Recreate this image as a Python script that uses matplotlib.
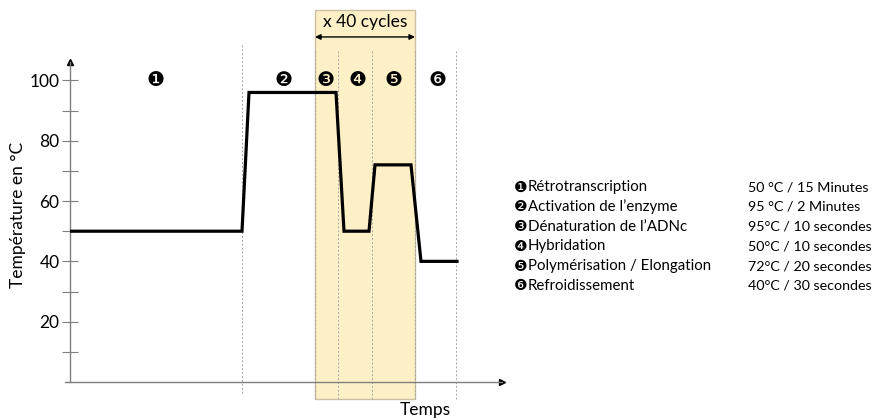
import matplotlib.pyplot as plt
from matplotlib.patches import Rectangle

plt.rcParams['font.family'] = ['Lato', 'DejaVu Sans']

# Temperature profile (time in arbitrary units)
time = [0, 172, 179, 266, 274, 299, 305, 341, 351, 387]
temp = [50, 50, 96, 96, 50, 50, 72, 72, 40, 40]

# Phase boundaries and label positions
bounds = [172, 245, 268, 302, 345, 386]
phase_x = [86, 214, 256, 287, 323, 367]
phase_nums = ['❶', '❷', '❸', '❹', '❺', '❻']
cycle_start, cycle_end = 245, 345

steps = ['Rétrotranscription', 'Activation de l\u2019enzyme', 'Dénaturation de l\u2019ADNc',
         'Hybridation', 'Polymérisation / Elongation', 'Refroidissement']
conditions = ['50 °C / 15 Minutes', '95 °C / 2 Minutes', '95°C / 10 secondes',
              '50°C / 10 secondes', '72°C / 20 secondes', '40°C / 30 secondes']

xmax = 432

fig = plt.figure(figsize=(8.76, 4.19), dpi=100)
ax = fig.add_axes([70 / 876, 37 / 419, xmax / 876, 320 / 419])
ax.set_xlim(0, xmax)
ax.set_ylim(0, 106.1)

grey = '#7f7f7f'

# cycle shading
ax.add_patch(Rectangle((cycle_start, -5.6), cycle_end - cycle_start, 129,
                       facecolor='#fdefc6', edgecolor='#cdbf9f', lw=1,
                       clip_on=False, zorder=0))

# dotted phase lines
for i, b in enumerate(bounds):
    top = 112 if i == 0 else 110
    bot = -3.5 if i == 0 else -5.6
    ax.plot([b, b], [bot, top], ls=(0, (2, 2)), color='#a6a6a6', lw=0.7,
            clip_on=False, zorder=1)

ax.plot(time, temp, color='black', lw=2.3, zorder=3, solid_joinstyle='miter')

for x, n in zip(phase_x, phase_nums):
    ax.text(x, 100, n, ha='center', va='center', fontsize=14.5,
            family=['DejaVu Sans'], clip_on=False)

# cycles arrow
ax.annotate('', xy=(cycle_start, 114.4), xytext=(cycle_end, 114.4),
            arrowprops=dict(arrowstyle='<|-|>', color='black', lw=1,
                            mutation_scale=8, shrinkA=0, shrinkB=0),
            annotation_clip=False)
ax.text((cycle_start + cycle_end) / 2, 119.3, 'x 40 cycles', ha='center',
        va='center', fontsize=12.5)

# axes styling
for s in ['top', 'right']:
    ax.spines[s].set_visible(False)
for s in ['left', 'bottom']:
    ax.spines[s].set_color(grey)
    ax.spines[s].set_linewidth(1)
ax.spines['bottom'].set_bounds(-5, xmax)
ax.set_xticks([])
ax.set_yticks([20, 40, 60, 80, 100])
ax.set_yticks([10, 30, 50, 70, 90], minor=True)
ax.tick_params(axis='y', which='both', direction='inout', length=11,
               color=grey, width=0.8, labelsize=12.5, pad=2)
ax.plot([0], [106.1], marker='^', color='black', ms=5, clip_on=False)
ax.plot([xmax], [0], marker='>', color='black', ms=5, clip_on=False)

fig.text(18 / 876, 1 - 215 / 419, 'Température en °C', rotation=90,
         ha='center', va='center', fontsize=12.5)
fig.text(425 / 876, 1 - 410 / 419, 'Temps', ha='center', va='center',
         fontsize=12.5)

# legend
for i, (num, step, cond) in enumerate(zip(phase_nums, steps, conditions)):
    y = 1 - (187 + 19.8 * i) / 419
    fig.text(514 / 876, y, num, ha='left', va='center', fontsize=11,
             family=['DejaVu Sans'])
    fig.text(528 / 876, y, step, ha='left', va='center', fontsize=10.8)
    fig.text(748 / 876, y, cond, ha='left', va='center', fontsize=10.3)

fig.savefig('out.png', dpi=100)
